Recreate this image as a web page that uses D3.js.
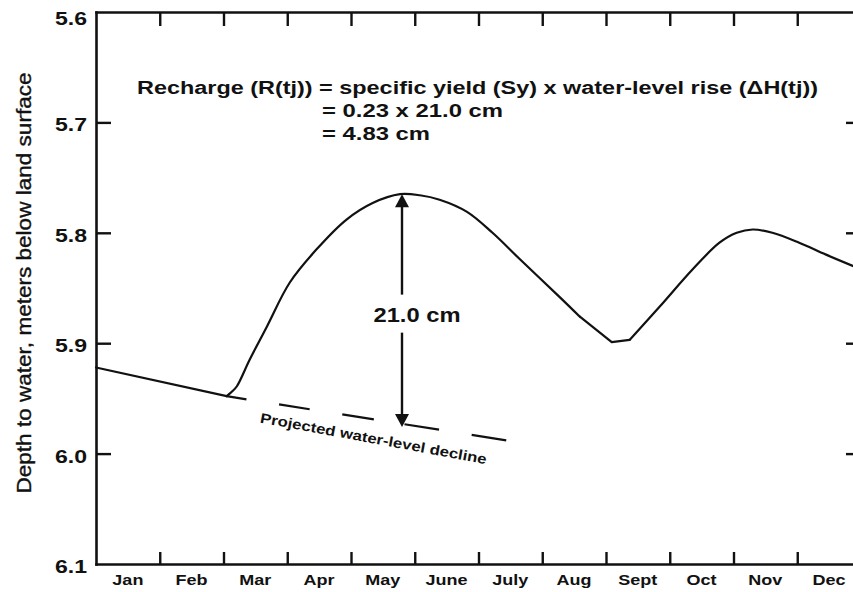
<!DOCTYPE html>
<html>
<head>
<meta charset="utf-8">
<script src="https://cdn.jsdelivr.net/npm/d3@7"></script>
<style>
  html, body { margin: 0; padding: 0; background: #fff; }
  svg { display: block; }
  text { font-family: "Liberation Sans", Arial, Helvetica, sans-serif; fill: #111; }
</style>
</head>
<body>
<svg id="chart" width="853" height="592"></svg>
<script>
// ---------------- data ----------------
const monthLabels = ["Jan","Feb","Mar","Apr","May","June","July","Aug","Sept","Oct","Nov","Dec"];
const yTickValues = [5.6, 5.7, 5.8, 5.9, 6.0, 6.1];
const yTickLabels = ["5.6", "5.7", "5.8", "5.9", "6.0", "6.1"];

// hydrograph: time in months from 1 Jan, depth to water (m below land surface)
const hydroMonth = [0, 2.05, 2.13, 2.21, 2.41, 2.68, 3.04, 3.46, 3.93, 4.34, 4.77, 5.08, 5.39, 5.82, 6.22, 6.65, 7.27, 7.59, 8.09, 8.37, 8.84, 9.36, 9.78, 10.05, 10.30, 10.61, 11.03, 11.46, 12.0];
const hydroDepth = [5.922, 5.948, 5.944, 5.939, 5.915, 5.885, 5.845, 5.815, 5.788, 5.773, 5.765, 5.766, 5.770, 5.781, 5.800, 5.824, 5.858, 5.876, 5.899, 5.897, 5.867, 5.833, 5.809, 5.800, 5.797, 5.800, 5.809, 5.820, 5.833];
// which stretches of the hydrograph are drawn straight vs. smoothed (index ranges)
const hydroPieces = [
  { from: 0, to: 1, smooth: false },
  { from: 1, to: 17, smooth: true },
  { from: 17, to: 19, smooth: false },
  { from: 19, to: 28, smooth: true }
];

// projected water-level decline
const projMonth = [2.05, 6.44];
const projDepth = [5.948, 5.988];

// water-level rise arrow
const riseMonth = 4.8;
const riseTopDepth = 5.765;
const riseBottomDepth = 5.976;
const riseLabel = "21.0 cm";

const equationLines = [
  "Recharge (R(tj)) = specific yield (Sy) x water-level rise (\u0394H(tj))",
  "= 0.23 x 21.0 cm",
  "= 4.83 cm"
];
const projLabel = "Projected water-level decline";
const yTitle = "Depth to water, meters below land surface";

// ---------------- chart ----------------
const svg = d3.select("#chart");
const x = d3.scaleLinear().domain([0, 12]).range([96, 861]);
const y = d3.scaleLinear().domain([5.6, 6.1]).range([12, 564]);
const ink = "#111";

function stretch(sel, factor) {
  sel.each(function() {
    const L = this.getComputedTextLength();
    d3.select(this).attr("textLength", L * factor).attr("lengthAdjust", "spacingAndGlyphs");
  });
}

const monthBounds = d3.range(1, 12);

function styleAxis(g) {
  g.selectAll("path.domain").attr("stroke", ink).attr("stroke-width", 2.6).attr("stroke-linecap", "square");
  g.selectAll(".tick line").attr("stroke", ink).attr("stroke-width", 2.4);
  g.selectAll(".tick text").remove();
}

// bottom axis (ticks pointing up)
svg.append("g").attr("transform", `translate(0,${y(6.1)})`)
  .call(d3.axisTop(x).tickValues(monthBounds).tickSizeInner(12).tickSizeOuter(0).tickFormat(""))
  .call(styleAxis);
// top axis (ticks pointing down)
svg.append("g").attr("transform", `translate(0,${y(5.6)})`)
  .call(d3.axisBottom(x).tickValues(monthBounds).tickSizeInner(14).tickSizeOuter(0).tickFormat(""))
  .call(styleAxis);
// left axis (ticks pointing right)
svg.append("g").attr("transform", `translate(${x(0)},0)`)
  .call(d3.axisRight(y).tickValues([5.7, 5.8, 5.9, 6.0]).tickSizeInner(15).tickSizeOuter(0).tickFormat(""))
  .call(styleAxis);
// right axis (ticks pointing left)
svg.append("g").attr("transform", `translate(${x(12)},0)`)
  .call(d3.axisLeft(y).tickValues([5.7, 5.8, 5.9, 6.0]).tickSizeInner(15).tickSizeOuter(0).tickFormat(""))
  .call(styleAxis);

// y tick labels
const yl = svg.append("g").selectAll("text").data(yTickValues).join("text")
  .attr("x", x(0) - 9)
  .attr("y", (d, i) => y(d) + (i === 0 ? 13 : 9))
  .attr("text-anchor", "end")
  .attr("font-size", 18).attr("font-weight", "bold")
  .text((d, i) => yTickLabels[i]);
stretch(yl, 1.28);

// month labels
const ml = svg.append("g").selectAll("text").data(monthLabels).join("text")
  .attr("x", (d, i) => x(i + 0.5))
  .attr("y", 585)
  .attr("text-anchor", "middle")
  .attr("font-size", 15).attr("font-weight", "bold")
  .text(d => d);
stretch(ml, 1.2);

// y axis title
svg.append("text")
  .attr("transform", `translate(31,283) rotate(-90)`)
  .attr("text-anchor", "middle")
  .attr("font-size", 21)
  .attr("stroke", ink).attr("stroke-width", 0.35)
  .attr("textLength", 421).attr("lengthAdjust", "spacingAndGlyphs")
  .text(yTitle);

// hydrograph
const hydro = hydroMonth.map((m, i) => [m, hydroDepth[i]]);
const straight = d3.line().x(d => x(d[0])).y(d => y(d[1])).curve(d3.curveLinear);
const smooth = d3.line().x(d => x(d[0])).y(d => y(d[1])).curve(d3.curveCatmullRom.alpha(0.5));
svg.append("g").selectAll("path").data(hydroPieces).join("path")
  .attr("d", p => (p.smooth ? smooth : straight)(hydro.slice(p.from, p.to + 1)))
  .attr("fill", "none").attr("stroke", ink)
  .attr("stroke-width", 2.2).attr("stroke-linejoin", "round").attr("stroke-linecap", "round");

// projected decline
const proj = projMonth.map((m, i) => [m, projDepth[i]]);
svg.append("path").datum(proj)
  .attr("d", straight).attr("fill", "none").attr("stroke", ink)
  .attr("stroke-width", 2.2)
  .attr("stroke-dasharray", "20,33,31,33,32,31,35,33,35");

// projected label
const pMid = [(x(projMonth[0]) + x(projMonth[1])) / 2 + 6, (y(projDepth[0]) + y(projDepth[1])) / 2 + 25];
const pAngle = Math.atan2(y(projDepth[1]) - y(projDepth[0]), x(projMonth[1]) - x(projMonth[0])) * 180 / Math.PI + 1.5;
svg.append("text")
  .attr("transform", `translate(${pMid[0]},${pMid[1]}) rotate(${pAngle})`)
  .attr("text-anchor", "middle")
  .attr("font-size", 14).attr("font-weight", "bold")
  .attr("textLength", 230).attr("lengthAdjust", "spacingAndGlyphs")
  .text(projLabel);

// rise arrow
const ax = x(riseMonth), yT = y(riseTopDepth), yB = y(riseBottomDepth);
const mid = (yT + yB) / 2;
svg.append("line").attr("x1", ax).attr("x2", ax).attr("y1", yT + 10).attr("y2", mid - 16)
  .attr("stroke", ink).attr("stroke-width", 2.4);
svg.append("line").attr("x1", ax).attr("x2", ax).attr("y1", mid + 22).attr("y2", yB - 10)
  .attr("stroke", ink).attr("stroke-width", 2.4);
svg.append("path").attr("d", `M${ax},${yT} L${ax - 7},${yT + 13} L${ax + 7},${yT + 13} Z`).attr("fill", ink);
svg.append("path").attr("d", `M${ax},${yB} L${ax - 7},${yB - 13} L${ax + 7},${yB - 13} Z`).attr("fill", ink);
svg.append("text")
  .attr("x", ax + 15).attr("y", mid + 11)
  .attr("text-anchor", "middle")
  .attr("font-size", 20).attr("font-weight", "bold")
  .attr("textLength", 87).attr("lengthAdjust", "spacingAndGlyphs")
  .text(riseLabel);

// equation
const eqX = [137, 322, 322];
const eqY = [94, 117, 140];
const eqW = [681, 181, 108];
svg.append("g").selectAll("text").data(equationLines).join("text")
  .attr("x", (d, i) => eqX[i]).attr("y", (d, i) => eqY[i])
  .attr("font-size", 18).attr("font-weight", "bold")
  .attr("textLength", (d, i) => eqW[i]).attr("lengthAdjust", "spacingAndGlyphs")
  .text(d => d);
</script>
</body>
</html>
